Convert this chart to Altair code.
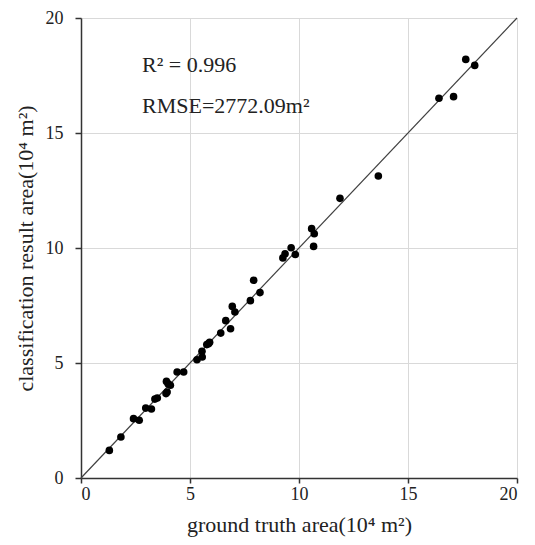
import altair as alt
import pandas as pd

# ground truth area (10^4 m^2)
truth = [1.30, 1.83, 2.41, 2.67, 2.97, 3.23, 3.39, 3.50, 3.90, 3.95, 3.92, 4.00, 4.10,
         4.41, 4.71, 5.32, 5.56, 5.55, 5.77, 5.90, 5.85, 6.41, 6.64, 6.86, 6.94, 7.06,
         7.77, 7.92, 8.21, 9.26, 9.36, 9.64, 9.83, 10.58, 10.70, 10.67, 11.88, 13.64,
         16.42, 17.09, 17.65, 18.06]
# classification result area (10^4 m^2)
result = [1.20, 1.78, 2.58, 2.51, 3.04, 3.00, 3.43, 3.48, 3.67, 3.74, 4.20, 4.09, 4.03,
          4.61, 4.61, 5.14, 5.26, 5.51, 5.80, 5.90, 5.84, 6.30, 6.84, 6.49, 7.46, 7.22,
          7.71, 8.60, 8.06, 9.57, 9.75, 10.01, 9.72, 10.84, 10.62, 10.07, 12.16, 13.13,
          16.51, 16.58, 18.20, 17.94]
ticks = [0, 5, 10, 15, 20]
line_ends = [0, 20]
annotations = ["R\u00b2 = 0.996", "RMSE=2772.09m\u00b2"]

pts = pd.DataFrame({"truth": truth, "result": result})
diag = pd.DataFrame({"truth": line_ends, "result": line_ends})

FONT = "Liberation Serif"

xs = alt.Scale(domain=[0, 20], nice=False)
ys = alt.Scale(domain=[0, 20], nice=False)

xaxis = alt.Axis(values=ticks, title="ground truth area(10\u2074 m\u00b2)")
yaxis = alt.Axis(values=ticks, title="classification result area(10\u2074 m\u00b2)")

line = alt.Chart(diag).mark_line(color="#404040", strokeWidth=1.2).encode(
    x=alt.X("truth:Q", scale=xs, axis=xaxis),
    y=alt.Y("result:Q", scale=ys, axis=yaxis),
)

points = alt.Chart(pts).mark_circle(color="black", opacity=1, size=58).encode(
    x=alt.X("truth:Q", scale=xs),
    y=alt.Y("result:Q", scale=ys),
)

txt1 = alt.Chart(pd.DataFrame({"t": [annotations[0]]})).mark_text(
    font=FONT, fontSize=22, align="left", baseline="alphabetic", color="#222222"
).encode(text="t:N", x=alt.value(61), y=alt.value(54))

txt2 = alt.Chart(pd.DataFrame({"t": [annotations[1]]})).mark_text(
    font=FONT, fontSize=22, align="left", baseline="alphabetic", color="#222222"
).encode(text="t:N", x=alt.value(61), y=alt.value(95))

chart = (line + points + txt1 + txt2).properties(
    width=436, height=460,
    autosize=alt.AutoSizeParams(type="none"),
    padding={"left": 73, "top": 10, "right": 10, "bottom": 59},
).configure_view(stroke=None).configure_axis(
    labelFont=FONT, titleFont=FONT, labelFontSize=18, titleFontSize=22,
    titleFontWeight="normal", labelColor="#222222", titleColor="#222222",
    domainColor="#333333", domainWidth=1.5, tickColor="#333333", tickWidth=1.5,
    gridColor="#d9d9d9", gridWidth=1,
).configure_axisX(
    tickSize=5, labelPadding=2, titlePadding=11,
).configure_axisY(
    tickSize=6, labelPadding=12, titlePadding=8,
)

chart.save("out.html", embed_options={"renderer": "svg", "actions": False})
